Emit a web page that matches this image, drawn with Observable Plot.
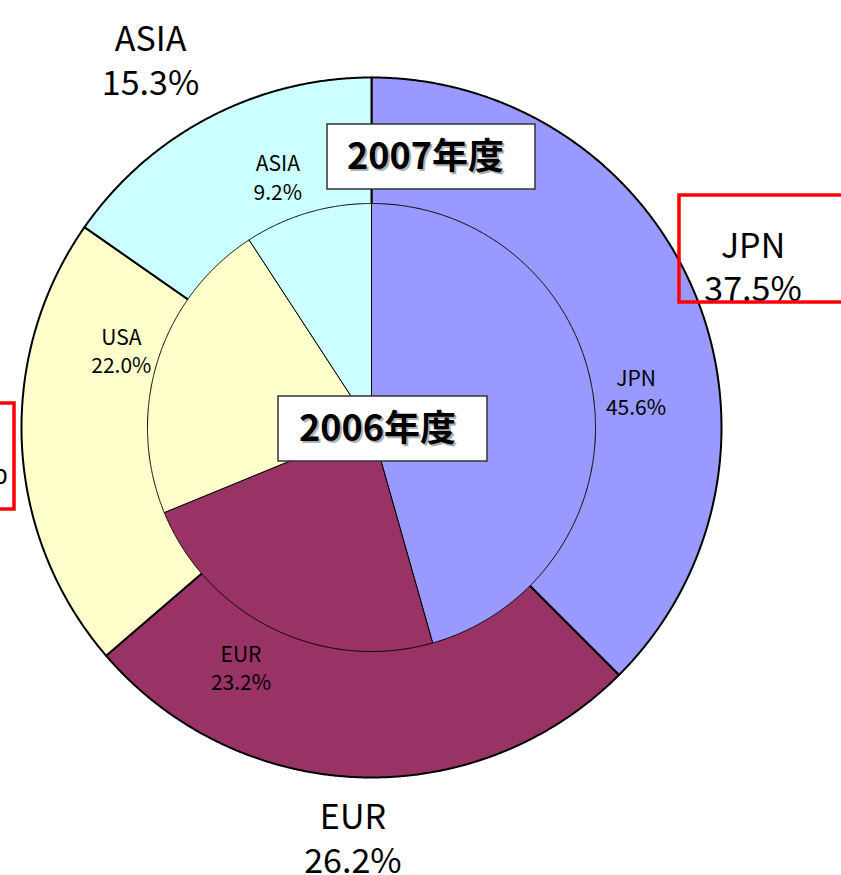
<!DOCTYPE html>
<html><head><meta charset="utf-8">
<script src="https://cdn.jsdelivr.net/npm/d3@7"></script>
<script src="https://cdn.jsdelivr.net/npm/@observablehq/plot@0.6"></script>
<style>html,body{margin:0;padding:0;background:#fff;overflow:hidden}</style>
</head><body><div id="chart"></div>
<script>
// ---- data ----
const categories = ["JPN", "EUR", "USA", "ASIA"];
const colors = ["#9999FF", "#993366", "#FFFFCC", "#CCFFFF"];
const values2006 = [45.6, 23.2, 22.0, 9.2];   // inner pie
const values2007 = [37.5, 26.2, 21.0, 15.3];  // outer ring
const yearLabels = ["2006年度", "2007年度"];
const boxedCategories = ["JPN", "USA"];       // outer labels framed in red

// ---- layout (pixels) ----
const W = 841, H = 875, CX = 371, CY = 427, R = 350;
const innerRadius = 224 / R;
const innerLabelRadius = 262 / R;
const outerLabelRadius = 413 / R;
const px = v => (v - CX) / R;   // pixel x -> data units
const py = v => (CY - v) / R;   // pixel y -> data units
const innerNudge = {JPN: [5, 0], EUR: [-16, 4], USA: [0, 0], ASIA: [-19, 0]};
const outerNudge = {JPN: [0, -4], EUR: [-3, -3], USA: [0, 0], ASIA: [-30, -2]};

function slices(values, radius, ring) {
  const total = d3.sum(values);
  const pts = [], mids = [];
  let acc = 0;
  values.forEach((v, i) => {
    const a0 = acc / total * 2 * Math.PI, a1 = (acc + v) / total * 2 * Math.PI;
    acc += v;
    const id = ring + "-" + categories[i], cat = categories[i];
    pts.push({id, cat, x: 0, y: 0});
    const n = Math.max(2, Math.ceil((a1 - a0) / (Math.PI / 720)));
    for (let k = 0; k <= n; k++) {
      const a = a0 + (a1 - a0) * k / n;
      pts.push({id, cat, x: radius * Math.sin(a), y: radius * Math.cos(a)});
    }
    pts.push({id, cat, x: 0, y: 0});
    mids.push({cat, value: v, angle: (a0 + a1) / 2});
  });
  return {pts, mids};
}

const outer = slices(values2007, 1, "o");
const inner = slices(values2006, innerRadius, "i");

function labels(mids, r, nudge) {
  return mids.map(m => ({
    cat: m.cat,
    text: `${m.cat}\n${m.value.toFixed(1)}%`,
    x: r * Math.sin(m.angle) + nudge[m.cat][0] / R,
    y: r * Math.cos(m.angle) - nudge[m.cat][1] / R
  }));
}
const innerLabels = labels(inner.mids, innerLabelRadius, innerNudge);
const outerLabels = labels(outer.mids, outerLabelRadius, outerNudge);

const yearBoxes = [
  {label: yearLabels[0], x1: px(278), x2: px(487), y1: py(396), y2: py(461), tx: px(377), ty: py(429)},
  {label: yearLabels[1], x1: px(327), x2: px(535), y1: py(124), y2: py(189), tx: px(425), ty: py(157)}
];

const redBoxes = [
  {cat: boxedCategories[0], x1: px(679), x2: px(850), y1: py(195), y2: py(302)},
  {cat: boxedCategories[1], x1: px(-160), x2: px(14), y1: py(403), y2: py(509)}
];

const font = "'Noto Sans CJK JP', 'Noto Sans', sans-serif";

const chart = Plot.plot({
  width: W, height: H, margin: 0,
  x: {domain: [px(0), px(W)], axis: null},
  y: {domain: [py(H), py(0)], axis: null},
  color: {type: "ordinal", domain: categories, range: colors},
  style: {fontFamily: font, background: "#fff", overflow: "hidden"},
  marks: [
    Plot.line(outer.pts, {x: "x", y: "y", z: "id", fill: "cat", stroke: "#000", strokeWidth: 2, curve: "linear", strokeLinejoin: "round"}),
    Plot.line(inner.pts, {x: "x", y: "y", z: "id", fill: "cat", stroke: "#000", strokeWidth: 1, curve: "linear", strokeLinejoin: "round"}),
    Plot.text(innerLabels, {x: "x", y: "y", text: "text", fontSize: 21, lineHeight: 1.35, lineAnchor: "middle", fill: "#000"}),
    Plot.rect(yearBoxes, {x1: "x1", x2: "x2", y1: "y1", y2: "y2", fill: "#fff", stroke: "#333", strokeWidth: 1.5}),
    Plot.text(yearBoxes, {x: "tx", y: "ty", text: "label", fontSize: 36, fontWeight: "bold", fill: "#b0b0b0", dx: 2, dy: 2}),
    Plot.text(yearBoxes, {x: "tx", y: "ty", text: "label", fontSize: 36, fontWeight: "bold", fill: "#000"}),
    Plot.text(outerLabels, {x: "x", y: "y", text: "text", fontSize: 34, lineHeight: 1.28, lineAnchor: "middle", fill: "#000"}),
    Plot.rect(redBoxes, {x1: "x1", x2: "x2", y1: "y1", y2: "y2", fill: "none", stroke: "#ff0000", strokeWidth: 3.5})
  ]
});
document.getElementById("chart").appendChild(chart);
</script>
</body></html>
